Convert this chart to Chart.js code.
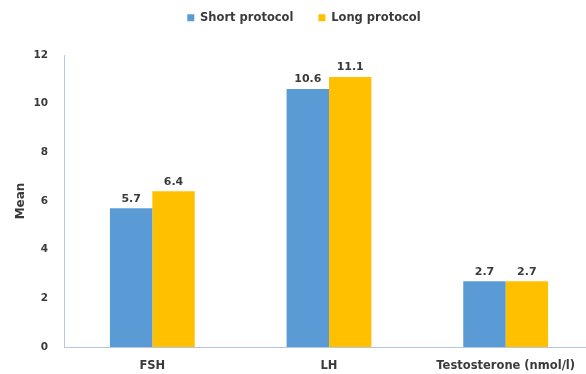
<!DOCTYPE html>
<html>
<head>
<meta charset="utf-8">
<script src="https://cdn.jsdelivr.net/npm/chart.js@4/dist/chart.umd.min.js"></script>
<style>
  html, body { margin: 0; padding: 0; background: #fff; overflow: hidden; }
  #wrap { width: 594px; height: 374px; }
</style>
</head>
<body>
<div id="wrap"><canvas id="hormoneChart" width="594" height="374"></canvas></div>
<script>
const categories = ['FSH', 'LH', 'Testosterone (nmol/l)'];
const shortProtocol = [5.7, 10.6, 2.7];
const longProtocol = [6.4, 11.1, 2.7];
const yTicks = [0, 2, 4, 6, 8, 10, 12];

const FONT = '"DejaVu Sans", sans-serif';
const TEXT = '#3a3a3a';
const AXIS = '#b4c7e7';

// Prints each bar's value just above it
const valueLabels = {
    id: 'valueLabels',
    afterDatasetsDraw(chart) {
        const ctx = chart.ctx;
        ctx.save();
        ctx.font = 'bold 11px ' + FONT;
        ctx.fillStyle = TEXT;
        ctx.textAlign = 'center';
        ctx.textBaseline = 'bottom';
        chart.data.datasets.forEach((dataset, i) => {
            chart.getDatasetMeta(i).data.forEach((bar, j) => {
                ctx.fillText(dataset.data[j].toFixed(1), bar.x, bar.y - 4);
            });
        });
        ctx.restore();
    }
};

// Fixed legend block height so the plot starts lower
const legendGap = {
    id: 'legendGap',
    beforeInit(chart) {
        const fit = chart.legend.fit;
        chart.legend.fit = function () {
            fit.bind(chart.legend)();
            this.height = 68;
        };
    }
};

const ctx = document.getElementById('hormoneChart').getContext('2d');
new Chart(ctx, {
    type: 'bar',
    data: {
        labels: categories,
        datasets: [
            {
                label: 'Short protocol',
                data: shortProtocol,
                backgroundColor: '#5b9bd5',
                borderWidth: 0
            },
            {
                label: 'Long protocol',
                data: longProtocol,
                backgroundColor: '#ffc000',
                borderWidth: 0
            }
        ]
    },
    options: {
        responsive: false,
        animation: false,
        datasets: {
            bar: {
                barPercentage: 1,
                categoryPercentage: 0.48
            }
        },
        layout: {
            padding: { left: 14, right: 0, top: -13, bottom: 0 }
        },
        plugins: {
            legend: {
                position: 'top',
                labels: {
                    boxWidth: 7,
                    boxHeight: 7,
                    padding: 25,
                    color: TEXT,
                    font: { family: FONT, size: 11.5, weight: 'bold' }
                }
            },
            tooltip: { enabled: false }
        },
        scales: {
            x: {
                afterFit(scale) {
                    scale.height = 27;
                },
                grid: { display: false, drawTicks: false },
                border: { color: AXIS, width: 1 },
                ticks: {
                    color: TEXT,
                    padding: 12,
                    font: { family: FONT, size: 11.5, weight: 'bold' }
                }
            },
            y: {
                min: 0,
                max: 12,
                afterBuildTicks(scale) {
                    scale.ticks = yTicks.map(v => ({ value: v }));
                },
                afterFit(scale) {
                    scale.width = 50;
                },
                grid: { display: false, drawTicks: false },
                border: { color: AXIS, width: 1 },
                ticks: {
                    color: TEXT,
                    padding: 16,
                    font: { family: FONT, size: 10.5, weight: 'bold' }
                },
                title: {
                    display: true,
                    text: 'Mean',
                    color: TEXT,
                    padding: 0,
                    font: { family: FONT, size: 12, weight: 'bold' }
                }
            }
        }
    },
    plugins: [valueLabels, legendGap]
});
</script>
</body>
</html>
